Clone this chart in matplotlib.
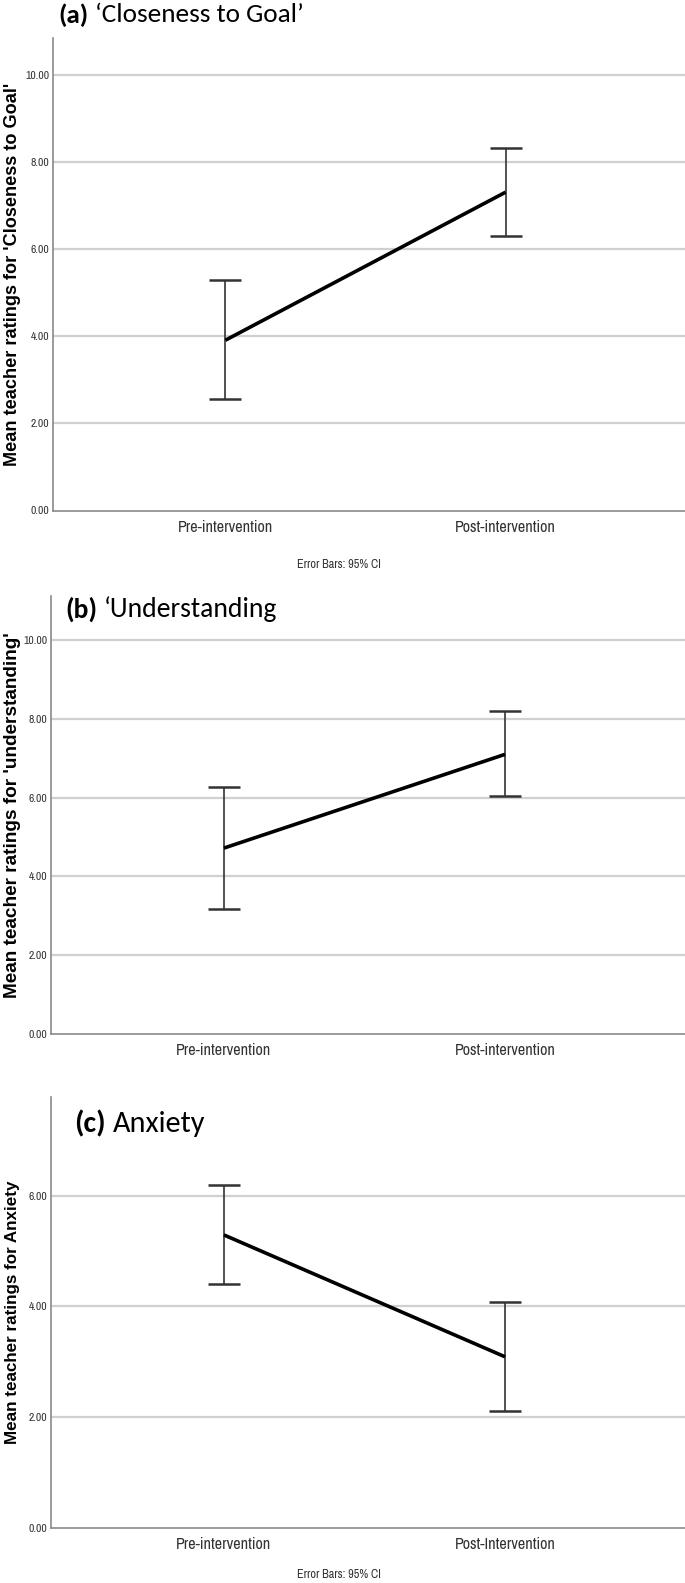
import matplotlib
matplotlib.use('Agg')
import matplotlib.pyplot as plt

# data (means and 95% CI bounds)
groups_ab = ['Pre-intervention', 'Post-intervention']
groups_c = ['Pre-intervention', 'Post-Intervention']

goal_mean = [3.91, 7.31]
goal_low = [2.55, 6.30]
goal_high = [5.29, 8.33]

und_mean = [4.72, 7.10]
und_low = [3.17, 6.03]
und_high = [6.27, 8.21]

anx_mean = [5.29, 3.09]
anx_low = [4.40, 2.12]
anx_high = [6.20, 4.08]

W, H = 685, 1583
fig = plt.figure(figsize=(W / 100, H / 100), dpi=100)

NARROW = ['Archivo Narrow', 'Liberation Sans', 'DejaVu Sans']
TITLE_FONT = ['Carlito', 'Lato', 'DejaVu Sans']
LABEL_FONT = ['Liberation Sans', 'DejaVu Sans']


def fit_text(t, target, vertical=False):
    # scale a text so its drawn length matches the reference
    fig.canvas.draw()
    bb = t.get_window_extent()
    size = bb.height if vertical else bb.width
    t.set_fontsize(t.get_fontsize() * target / size)


def draw_panel(rect, labels, mean, low, high, ymax, yticks, ylabel, label_len):
    left, bottom, right, top = rect
    ax = fig.add_axes([left / W, 1 - bottom / H, (right - left) / W, (bottom - top) / H])
    x = list(range(len(labels)))
    err = [[m - l for m, l in zip(mean, low)], [h - m for m, h in zip(mean, high)]]
    for t in yticks[1:]:
        ax.axhline(t, color='#d0d0d0', lw=1.6, zorder=0)
    ax.errorbar(x, mean, yerr=err, fmt='none', ecolor='#333333', elinewidth=1.2,
                capsize=11.5, capthick=1.8, zorder=2)
    ax.plot(x, mean, color='black', lw=2.6, solid_capstyle='butt', zorder=3)
    ax.set_xlim(-0.615, 1.64)
    ax.set_ylim(0, ymax)
    ax.set_xticks(x)
    ax.set_xticklabels(labels, family=NARROW, fontsize=11.6, color='#333333')
    ax.set_yticks(yticks)
    ax.set_yticklabels(['%.2f' % t for t in yticks], family=NARROW, fontsize=8.4,
                       color='#333333')
    ax.tick_params(axis='both', length=0)
    ax.tick_params(axis='x', pad=6.5)
    ax.tick_params(axis='y', pad=2.5)
    for s in ['top', 'right']:
        ax.spines[s].set_visible(False)
    for s in ['left', 'bottom']:
        ax.spines[s].set_color('#8a8a8a')
        ax.spines[s].set_linewidth(1.2)
    yl = fig.text(13 / W, 1 - (top + bottom) / 2 / H, ylabel, rotation=90,
                  fontsize=12, fontweight='bold', family=LABEL_FONT,
                  ha='center', va='center')
    fit_text(yl, label_len, vertical=True)
    return ax


def panel_title(x, y, tag, text, width):
    size = 19.5
    t1 = fig.text(x / W, 1 - y / H, tag, fontsize=size, fontweight='bold',
                  family=TITLE_FONT, va='center', ha='left')
    t2 = fig.text(0, 1 - y / H, text, fontsize=size, family=TITLE_FONT,
                  va='center', ha='left')
    fig.canvas.draw()
    gap = 7
    w1 = t1.get_window_extent().width
    w2 = t2.get_window_extent().width
    size = size * (width - gap) / (w1 + w2)
    t1.set_fontsize(size)
    t2.set_fontsize(size)
    fig.canvas.draw()
    t2.set_x((t1.get_window_extent().x1 + gap) / W)


# panel boxes in pixels: left, bottom (y of 0), right, top
ax_a = draw_panel((53, 510.5, 685, 38), groups_ab, goal_mean, goal_low, goal_high,
                  10.85, [0, 2, 4, 6, 8, 10],
                  "Mean teacher ratings for 'Closeness to Goal'", 380)
ax_b = draw_panel((51, 1034, 685, 596), groups_ab, und_mean, und_low, und_high,
                  11.12, [0, 2, 4, 6, 8, 10],
                  "Mean teacher ratings for 'understanding'", 366)
ax_c = draw_panel((51, 1528, 685, 1097), groups_c, anx_mean, anx_low, anx_high,
                  7.78, [0, 2, 4, 6],
                  'Mean teacher ratings for Anxiety', 262)

panel_title(58, 15, '(a)', '\u2018Closeness to Goal\u2019', 246)
panel_title(65, 609, '(b)', '\u2018Understanding', 212)
panel_title(74, 1124, '(c)', 'Anxiety', 131)

fig.text(339 / W, 1 - 565 / H, 'Error Bars: 95% CI', family=NARROW, fontsize=8.8,
         ha='center', va='center', color='#333333')
fig.text(339 / W, 1 - 1575 / H, 'Error Bars: 95% CI', family=NARROW, fontsize=8.8,
         ha='center', va='center', color='#333333')

fig.savefig('out.png', dpi=100)
